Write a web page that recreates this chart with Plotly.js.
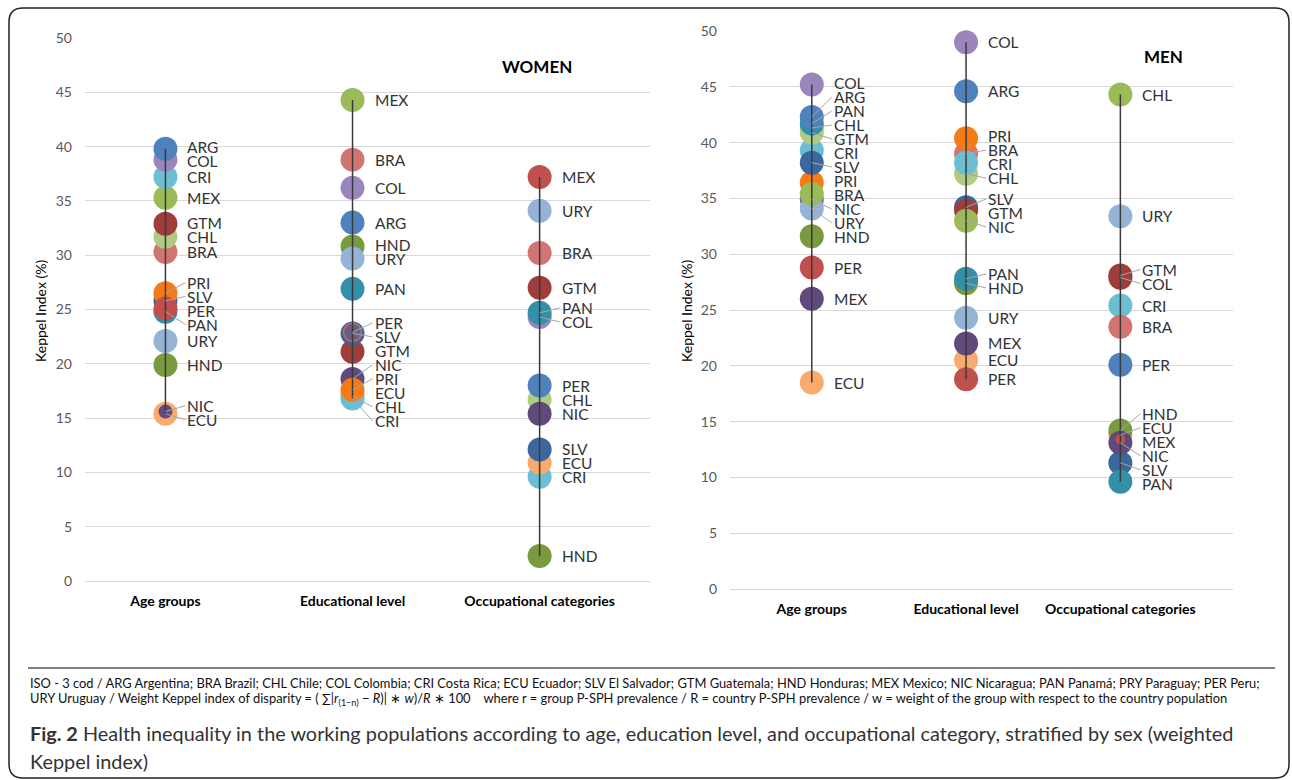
<!DOCTYPE html>
<html><head><meta charset="utf-8">
<script src="https://cdn.plot.ly/plotly-3.0.1.min.js"></script>
<style>html,body{margin:0;padding:0;background:#fff}#chart{width:1292px;height:780px}</style>
</head><body><div id="chart"></div>
<script>
// ---------------- DATA ----------------
const categories = ['Age groups', 'Educational level', 'Occupational categories'];

// WOMEN
const womenAgeCodes  = ['ECU','NIC','HND','URY','PAN','SLV','PRI','PER','BRA','CHL','GTM','MEX','CRI','COL','ARG'];
const womenAgeValues = [15.4, 15.6, 19.9, 22.1, 24.8, 25.8, 26.5, 25.1, 30.3, 31.7, 32.9, 35.3, 37.2, 38.8, 39.8];

const womenEduCodes  = ['CHL','ECU','CRI','NIC','PRI','GTM','SLV','PER','PAN','HND','URY','ARG','COL','BRA','MEX'];
const womenEduValues = [17.0, 17.3, 16.8, 18.6, 17.6, 21.1, 22.8, 22.9, 26.9, 30.8, 29.7, 33.0, 36.2, 38.8, 44.3];

const womenOccCodes  = ['HND','CRI','ECU','SLV','CHL','NIC','PER','COL','PAN','GTM','BRA','URY','MEX'];
const womenOccValues = [2.3, 9.6, 10.9, 12.1, 16.7, 15.4, 18.0, 24.3, 24.7, 27.0, 30.2, 34.1, 37.2];

// MEN
const menAgeCodes  = ['ECU','MEX','PER','HND','NIC','URY','PRI','BRA','CRI','SLV','GTM','CHL','PAN','ARG','COL'];
const menAgeValues = [18.5, 26.0, 28.8, 31.6, 34.9, 34.1, 36.4, 35.4, 39.3, 38.2, 40.9, 41.3, 41.7, 42.3, 45.2];

const menEduCodes  = ['ECU','MEX','PER','URY','HND','PAN','SLV','GTM','NIC','CHL','BRA','CRI','PRI','ARG','COL'];
const menEduValues = [20.5, 22.0, 18.8, 24.3, 27.4, 27.8, 34.2, 33.9, 33.0, 37.2, 39.0, 38.2, 40.4, 44.6, 49.0];

const menOccCodes  = ['SLV','PAN','ECU','HND','NIC','MEX','PER','CRI','BRA','GTM','COL','URY','CHL'];
const menOccValues = [11.3, 9.6, 13.8, 14.2, 13.1, 13.4, 20.1, 25.4, 23.5, 28.1, 27.9, 33.4, 44.3];

const yTickValues = [0, 5, 10, 15, 20, 25, 30, 35, 40, 45, 50];

// ---------------- STYLES ----------------
const palette = {
  blue:'#4F81BD', lav:'#9A86BD', cyan:'#6CBFD3', green:'#9BBB59', dred:'#9E3D3B',
  lgreen:'#B0CB84', lred:'#D17573', orange:'#F47B16', dblue:'#3B679E', red:'#C0504D',
  teal:'#3490A8', lblue:'#95B3D7', olive:'#7A9A3F', dpurple:'#604A7B', purple:'#8064A2',
  lorange:'#F9AB6E'
};
const womenAgeColors = ['lorange','dpurple','olive','lblue','teal','dblue','orange','red','lred','lgreen','dred','green','cyan','lav','blue'];
const womenEduColors = ['lgreen','lorange','cyan','dpurple','orange','dred','dblue','red','teal','olive','lblue','blue','lav','lred','green'];
const womenOccColors = ['olive','cyan','lorange','dblue','lgreen','dpurple','blue','lav','teal','dred','lred','lblue','red'];
const menAgeColors   = ['lorange','dpurple','red','olive','purple','lblue','orange','green','cyan','dblue','lgreen','lgreen','teal','blue','lav'];
const menEduColors   = ['lorange','dpurple','red','lblue','olive','teal','dblue','dred','green','lgreen','lred','cyan','orange','blue','lav'];
const menOccColors   = ['dblue','teal','lorange','olive','dpurple','red','blue','cyan','lred','dred','dred','lblue','green'];

// marker style exceptions
const specialMarkers = {
  'women|0|NIC': {size: 14},
  'women|1|PER': {size: 18, color: 'rgba(192,80,77,0.35)', lw: 1.5, lc: '#D9625E'},
  'men|2|MEX':   {size: 10}
};

const W = 1292, H = 780;
const fx = x => x / W, fy = y => 1 - y / H;

const panels = [
  {key:'women', xa:'x', ya:'y', xl:'xaxis', yl:'yaxis', box:{x0:85, x1:650, y0:38, y1:581}, xrange:[-0.43, 2.59],
   cols:[[womenAgeCodes, womenAgeValues, womenAgeColors],[womenEduCodes, womenEduValues, womenEduColors],[womenOccCodes, womenOccValues, womenOccColors]]},
  {key:'men', xa:'x2', ya:'y2', xl:'xaxis2', yl:'yaxis2', box:{x0:730, x1:1233, y0:31, y1:589}, xrange:[-0.53, 2.73],
   cols:[[menAgeCodes, menAgeValues, menAgeColors],[menEduCodes, menEduValues, menEduColors],[menOccCodes, menOccValues, menOccColors]]}
];

const FONT = 'Lato, "Open Sans", sans-serif';
const MARKER = 24;

// label de-overlap (pixel space, up = positive)
function placeLabels(values, pxPerUnit, minGap) {
  const order = values.map((v, i) => i).sort((a, b) => values[b] - values[a]);
  const pos = order.map(i => values[i] * pxPerUnit);
  for (let it = 0; it < 2000; it++) {
    let moved = false;
    for (let k = 0; k < pos.length - 1; k++) {
      const d = pos[k] - pos[k + 1];
      if (d < minGap - 0.01) { const s = (minGap - d) / 2; pos[k] += s; pos[k + 1] -= s; moved = true; }
    }
    if (!moved) break;
  }
  const out = new Array(values.length);
  order.forEach((i, k) => { out[i] = pos[k]; });
  return out;
}

const traces = [];
const annotations = [];
const layout = {
  width: W, height: H, margin: {l:0, r:0, t:0, b:0},
  paper_bgcolor: '#fff', plot_bgcolor: 'rgba(0,0,0,0)',
  showlegend: false, hovermode: false,
  font: {family: FONT, color: '#404040'},
  annotations: annotations, shapes: []
};

panels.forEach(p => {
  const pxPerUnit = (p.box.y1 - p.box.y0) / 50;
  layout[p.xl] = {
    domain: [fx(p.box.x0), fx(p.box.x1)], range: p.xrange, type: 'category',
    categoryorder: 'array', categoryarray: categories,
    showgrid: false, zeroline: false, showline: false, ticks: '',
    tickfont: {family: FONT, size: 14, color: '#000', weight: 700},
    ticklabelstandoff: 10, anchor: p.ya, fixedrange: true
  };
  layout[p.yl] = {
    domain: [fy(p.box.y1), fy(p.box.y0)], range: [0, 50], tickvals: yTickValues,
    showgrid: true, gridcolor: '#D9D9D9', gridwidth: 1, zeroline: true, zerolinecolor: '#D9D9D9',
    showline: false, ticks: '', tickfont: {family: FONT, size: 14, color: '#595959'},
    ticklabelstandoff: 12, anchor: p.xa, fixedrange: true
  };
  p.cols.forEach((col, ci) => {
    const [codes, values, colorKeys] = col;
    const cat = categories[ci];
    const sizes = [], colors = [], lws = [], lcs = [];
    codes.forEach((c, i) => {
      const sp = specialMarkers[p.key + '|' + ci + '|' + c] || {};
      sizes.push(sp.size || MARKER);
      colors.push(sp.color || palette[colorKeys[i]]);
      lws.push(sp.lw || 0);
      lcs.push(sp.lc || palette[colorKeys[i]]);
    });
    traces.push({
      type: 'scatter', mode: 'markers', xaxis: p.xa, yaxis: p.ya, cliponaxis: false,
      x: codes.map(() => cat), y: values, hoverinfo: 'skip',
      marker: {size: sizes, color: colors, opacity: 1, line: {width: lws, color: lcs}}
    });
    // high-low line
    traces.push({
      type: 'scatter', mode: 'lines', xaxis: p.xa, yaxis: p.ya, cliponaxis: false, hoverinfo: 'skip',
      x: [cat, cat], y: [Math.max(...values), Math.min(...values)],
      line: {color: '#3A3A3A', width: 1.5}
    });
    // labels
    const labPx = placeLabels(values, pxPerUnit, 14);
    codes.forEach((c, i) => {
      const dy = labPx[i] - values[i] * pxPerUnit;
      annotations.push({
        xref: p.xa, yref: p.ya, x: cat, y: values[i], text: c,
        showarrow: true, arrowhead: 0, arrowwidth: 1, standoff: 0,
        arrowcolor: Math.abs(dy) > 3 ? '#A6A6A6' : 'rgba(0,0,0,0)',
        ax: 20, ay: -dy, xanchor: 'left', yanchor: 'middle',
        font: {family: FONT, size: 15.5, color: '#333'}
      });
    });
  });
});

// panel titles & axis titles
annotations.push({xref:'paper', yref:'paper', x: fx(537), y: fy(66), text:'<b>WOMEN</b>', showarrow:false,
  xanchor:'center', yanchor:'middle', font:{family:FONT, size:17, color:'#000'}});
annotations.push({xref:'paper', yref:'paper', x: fx(1163), y: fy(57), text:'<b>MEN</b>', showarrow:false,
  xanchor:'center', yanchor:'middle', font:{family:FONT, size:17, color:'#000'}});
annotations.push({xref:'paper', yref:'paper', x: fx(40), y: fy(311), text:'Keppel Index (%)', showarrow:false,
  textangle:-90, xanchor:'center', yanchor:'middle', font:{family:FONT, size:14, color:'#000'}});
annotations.push({xref:'paper', yref:'paper', x: fx(686), y: fy(311), text:'Keppel Index (%)', showarrow:false,
  textangle:-90, xanchor:'center', yanchor:'middle', font:{family:FONT, size:14, color:'#000'}});

// footnote & caption, sizes fitted to the reference widths
function measure(text, size, weight) {
  const ctx = document.createElement('canvas').getContext('2d');
  ctx.font = (weight || 400) + ' ' + size + 'px Lato';
  return ctx.measureText(text).width;
}
const foot1 = 'ISO - 3 cod / ARG Argentina; BRA Brazil; CHL Chile; COL Colombia; CRI Costa Rica; ECU Ecuador; SLV El Salvador; GTM Guatemala; HND Honduras; MEX Mexico; NIC Nicaragua; PAN Panamá; PRY Paraguay; PER Peru;';
const foot2 = 'URY Uruguay / Weight Keppel index of disparity = ( ∑|<i>r</i><sub>(1−n)</sub> − <i>R</i>)| ∗ <i>w</i>)/<i>R</i> ∗ 100\u00A0\u00A0\u00A0 where r = group P-SPH prevalence / R = country P-SPH prevalence / w = weight of the group with respect to the country population';
const cap1a = 'Fig. 2';
const cap1b = ' Health inequality in the working populations according to age, education level, and occupational category, stratified by sex (weighted';
const cap2 = 'Keppel index)';

const footSize = 12 * 1234 / measure(foot1, 12);
const capW = measure(cap1a, 18, 700) + measure(cap1b, 18, 400);
const capSize = 18 * 1206 / capW;

annotations.push({xref:'paper', yref:'paper', x: fx(28), y: fy(683), text: foot1, showarrow:false,
  xanchor:'left', yanchor:'middle', font:{family:FONT, size: footSize, color:'#111'}});
annotations.push({xref:'paper', yref:'paper', x: fx(28), y: fy(699), text: foot2, showarrow:false,
  xanchor:'left', yanchor:'middle', font:{family:FONT, size: footSize, color:'#111'}});
annotations.push({xref:'paper', yref:'paper', x: fx(28), y: fy(733), text: '<b>' + cap1a + '</b>' + cap1b, showarrow:false,
  xanchor:'left', yanchor:'middle', font:{family:FONT, size: capSize, color:'#333'}});
annotations.push({xref:'paper', yref:'paper', x: fx(28), y: fy(761), text: cap2, showarrow:false,
  xanchor:'left', yanchor:'middle', font:{family:FONT, size: capSize, color:'#333'}});

// rule and rounded frame
layout.shapes.push({type:'line', xref:'paper', yref:'paper', x0: fx(28), x1: fx(1275), y0: fy(668), y1: fy(668),
  line:{color:'#000', width:1}});
(function () {
  const x0 = 9, y0 = 8, x1 = 1289, y1 = 778, r = 14;
  const P = (x, y) => fx(x) + ',' + fy(y);
  const path = 'M' + P(x0 + r, y0) + ' L' + P(x1 - r, y0) + ' Q' + P(x1, y0) + ' ' + P(x1, y0 + r) +
    ' L' + P(x1, y1 - r) + ' Q' + P(x1, y1) + ' ' + P(x1 - r, y1) +
    ' L' + P(x0 + r, y1) + ' Q' + P(x0, y1) + ' ' + P(x0, y1 - r) +
    ' L' + P(x0, y0 + r) + ' Q' + P(x0, y0) + ' ' + P(x0 + r, y0) + ' Z';
  layout.shapes.push({type:'path', xref:'paper', yref:'paper', path: path, line:{color:'#222', width:1.5}});
})();

Plotly.newPlot('chart', traces, layout, {staticPlot: true, displayModeBar: false});
</script></body></html>
